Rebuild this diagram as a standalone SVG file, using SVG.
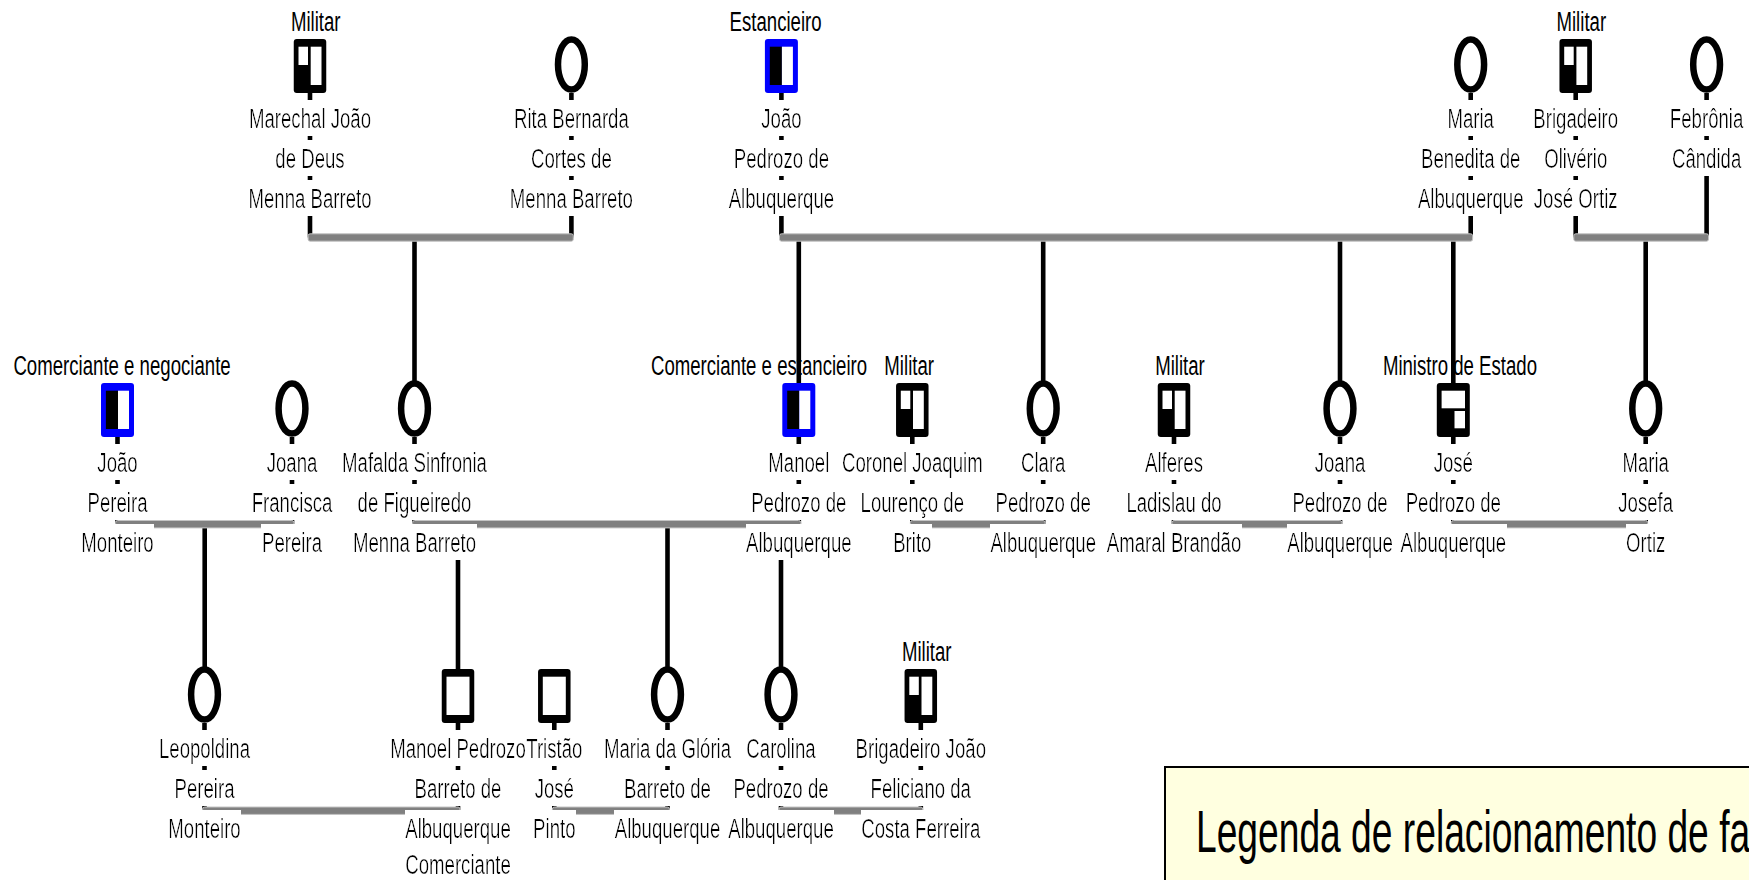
<svg xmlns="http://www.w3.org/2000/svg" width="1749" height="880" viewBox="0 0 1749 880">
<style>
  text { font-family: "Liberation Sans", Arial, sans-serif; fill: #000; }
  .nm text { font-size: 28px; text-anchor: middle; }
  .nm text.n { filter: url(#bg); }
  .ln line { stroke: #000; stroke-width: 4.6; }
  .mar rect { fill: #808080; stroke: #c4c4c4; stroke-width: 1; }
</style>
<defs>
  <!-- white backdrop the size of each name line -->
  <filter id="bg" filterUnits="objectBoundingBox" x="0" y="-0.05" width="1" height="1.1">
    <feFlood flood-color="#ffffff" result="f"/>
    <feMerge><feMergeNode in="f"/><feMergeNode in="SourceGraphic"/></feMerge>
  </filter>
  <!-- female -->
  <g id="fem"><ellipse cx="0" cy="25.5" rx="13.4" ry="25" fill="#fff" stroke="#000" stroke-width="6.5"/></g>
  <!-- male, plain -->
  <g id="male">
    <rect x="-16.25" y="0" width="32.5" height="54" rx="3" fill="#000"/>
    <rect x="-11.5" y="7.7" width="23" height="38.3" fill="#fff"/>
  </g>
  <!-- male, military -->
  <g id="mil">
    <rect x="-16.25" y="0" width="32.5" height="54" rx="3" fill="#000"/>
    <rect x="-11.5" y="7.7" width="9.5" height="18.3" fill="#fff"/>
    <rect x="0.7" y="7.7" width="10.8" height="38.3" fill="#fff"/>
  </g>
  <!-- male, merchant / rancher -->
  <g id="est">
    <rect x="-16.5" y="0" width="33" height="54" rx="3" fill="#0000ff"/>
    <rect x="-11.6" y="7.7" width="12.1" height="38.3" fill="#000"/>
    <rect x="0.5" y="7.7" width="11" height="38.3" fill="#fff"/>
  </g>
  <!-- male, minister -->
  <g id="min">
    <rect x="-16.5" y="0" width="33" height="54" rx="3" fill="#000"/>
    <rect x="-11.7" y="7.7" width="23.4" height="17.6" fill="#fff"/>
    <rect x="1.2" y="28" width="10.5" height="17.3" fill="#fff"/>
  </g>
</defs>

<rect width="1749" height="880" fill="#fff"/>

<!-- connectors -->
<g id="connectors">
  <g class="ln">
    <!-- stems, generation 1 -->
    <line x1="310" y1="93" x2="310" y2="237.5"/>
    <line x1="571.4" y1="93" x2="571.4" y2="237.5"/>
    <line x1="781.4" y1="93" x2="781.4" y2="237.5"/>
    <line x1="1470.7" y1="93" x2="1470.7" y2="237.5"/>
    <line x1="1575.7" y1="93" x2="1575.7" y2="237.5"/>
    <line x1="1706.6" y1="93" x2="1706.6" y2="237.5"/>
    <!-- stems, generation 2 -->
    <line x1="117.5" y1="437" x2="117.5" y2="524.2"/>
    <line x1="292" y1="437" x2="292" y2="524.2"/>
    <line x1="414.5" y1="437" x2="414.5" y2="524.2"/>
    <line x1="798.8" y1="437" x2="798.8" y2="524.2"/>
    <line x1="912.3" y1="437" x2="912.3" y2="524.2"/>
    <line x1="1043.2" y1="437" x2="1043.2" y2="524.2"/>
    <line x1="1174" y1="437" x2="1174" y2="524.2"/>
    <line x1="1340" y1="437" x2="1340" y2="524.2"/>
    <line x1="1453.3" y1="437" x2="1453.3" y2="524.2"/>
    <line x1="1645.7" y1="437" x2="1645.7" y2="524.2"/>
    <!-- stems, generation 3 -->
    <line x1="204.5" y1="723" x2="204.5" y2="810.7"/>
    <line x1="458" y1="723" x2="458" y2="810.7"/>
    <line x1="554.3" y1="723" x2="554.3" y2="810.7"/>
    <line x1="667.5" y1="723" x2="667.5" y2="810.7"/>
    <line x1="781" y1="723" x2="781" y2="810.7"/>
    <line x1="920.8" y1="723" x2="920.8" y2="810.7"/>
    <!-- descent lines to children -->
    <line x1="414.5" y1="237.5" x2="414.5" y2="384"/>
    <line x1="798.8" y1="237.5" x2="798.8" y2="384"/>
    <line x1="1043.2" y1="237.5" x2="1043.2" y2="384"/>
    <line x1="1340" y1="237.5" x2="1340" y2="384"/>
    <line x1="1453.3" y1="237.5" x2="1453.3" y2="384"/>
    <line x1="1645.7" y1="237.5" x2="1645.7" y2="384"/>
    <line x1="204.7" y1="524.2" x2="204.7" y2="670"/>
    <line x1="458" y1="524.2" x2="458" y2="670"/>
    <line x1="667.5" y1="524.2" x2="667.5" y2="670"/>
    <line x1="781" y1="524.2" x2="781" y2="670"/>
  </g>
  <!-- marriage bars -->
  <g class="mar">
    <rect x="308.1" y="233.8" width="265.2" height="7.4" rx="2"/>
    <rect x="779.5" y="233.8" width="693.1" height="7.4" rx="2"/>
    <rect x="1573.8" y="233.8" width="134.7" height="7.4" rx="2"/>
    <rect x="115.6" y="520.5" width="178.3" height="7.4" rx="2"/>
    <rect x="412.6" y="520.5" width="388.1" height="7.4" rx="2"/>
    <rect x="910.4" y="520.5" width="134.7" height="7.4" rx="2"/>
    <rect x="1172.1" y="520.5" width="169.8" height="7.4" rx="2"/>
    <rect x="1451.4" y="520.5" width="196.2" height="7.4" rx="2"/>
    <rect x="202.6" y="807" width="257.3" height="7.4" rx="2"/>
    <rect x="552.4" y="807" width="117" height="7.4" rx="2"/>
    <rect x="779.1" y="807" width="143.6" height="7.4" rx="2"/>
  </g>
</g>

<!-- generation 1 -->
<g id="marechal-joao-de-deus" transform="translate(310 0)">
  <use href="#mil" y="39"/>
  <g class="nm" transform="scale(0.665 1)">
    <text x="8.6" y="30.7">Militar</text>
    <text class="n" y="128">Marechal João</text>
    <text class="n" y="168">de Deus</text>
    <text class="n" y="208">Menna Barreto</text>
  </g>
</g>
<g id="rita-bernarda" transform="translate(571.4 0)">
  <use href="#fem" y="39"/>
  <g class="nm" transform="scale(0.665 1)">
    <text class="n" y="128">Rita Bernarda</text>
    <text class="n" y="168">Cortes de</text>
    <text class="n" y="208">Menna Barreto</text>
  </g>
</g>
<g id="joao-pedrozo" transform="translate(781.4 0)">
  <use href="#est" y="39"/>
  <g class="nm" transform="scale(0.665 1)">
    <text x="-8.7" y="30.7">Estancieiro</text>
    <text class="n" y="128">João</text>
    <text class="n" y="168">Pedrozo de</text>
    <text class="n" y="208">Albuquerque</text>
  </g>
</g>
<g id="maria-benedita" transform="translate(1470.7 0)">
  <use href="#fem" y="39"/>
  <g class="nm" transform="scale(0.665 1)">
    <text class="n" y="128">Maria</text>
    <text class="n" y="168">Benedita de</text>
    <text class="n" y="208">Albuquerque</text>
  </g>
</g>
<g id="olivério-ortiz" transform="translate(1575.7 0)">
  <use href="#mil" y="39"/>
  <g class="nm" transform="scale(0.665 1)">
    <text x="8.4" y="30.7">Militar</text>
    <text class="n" y="128">Brigadeiro</text>
    <text class="n" y="168">Olivério</text>
    <text class="n" y="208">José Ortiz</text>
  </g>
</g>
<g id="febronia-candida" transform="translate(1706.6 0)">
  <use href="#fem" y="39"/>
  <g class="nm" transform="scale(0.665 1)">
    <text class="n" y="128">Febrônia</text>
    <text class="n" y="168">Cândida</text>
  </g>
</g>

<!-- generation 2 -->
<g id="joao-pereira-monteiro" transform="translate(117.5 0)">
  <use href="#est" y="383"/>
  <g class="nm" transform="scale(0.665 1)">
    <text x="6.8" y="374.7">Comerciante e negociante</text>
    <text class="n" y="472">João</text>
    <text class="n" y="512">Pereira</text>
    <text class="n" y="552">Monteiro</text>
  </g>
</g>
<g id="joana-francisca" transform="translate(292 0)">
  <use href="#fem" y="383"/>
  <g class="nm" transform="scale(0.665 1)">
    <text class="n" y="472">Joana</text>
    <text class="n" y="512">Francisca</text>
    <text class="n" y="552">Pereira</text>
  </g>
</g>
<g id="mafalda-sinfronia" transform="translate(414.5 0)">
  <use href="#fem" y="383"/>
  <g class="nm" transform="scale(0.665 1)">
    <text class="n" y="472">Mafalda Sinfronia</text>
    <text class="n" y="512">de Figueiredo</text>
    <text class="n" y="552">Menna Barreto</text>
  </g>
</g>
<g id="manoel-pedrozo" transform="translate(798.8 0)">
  <use href="#est" y="383"/>
  <g class="nm" transform="scale(0.665 1)">
    <text x="-59.8" y="374.7">Comerciante e estancieiro</text>
    <text class="n" y="472">Manoel</text>
    <text class="n" y="512">Pedrozo de</text>
    <text class="n" y="552">Albuquerque</text>
  </g>
</g>
<g id="coronel-joaquim" transform="translate(912.3 0)">
  <use href="#mil" y="383"/>
  <g class="nm" transform="scale(0.665 1)">
    <text x="-4.7" y="374.7">Militar</text>
    <text class="n" y="472">Coronel Joaquim</text>
    <text class="n" y="512">Lourenço de</text>
    <text class="n" y="552">Brito</text>
  </g>
</g>
<g id="clara-pedrozo" transform="translate(1043.2 0)">
  <use href="#fem" y="383"/>
  <g class="nm" transform="scale(0.665 1)">
    <text class="n" y="472">Clara</text>
    <text class="n" y="512">Pedrozo de</text>
    <text class="n" y="552">Albuquerque</text>
  </g>
</g>
<g id="alferes-ladislau" transform="translate(1174 0)">
  <use href="#mil" y="383"/>
  <g class="nm" transform="scale(0.665 1)">
    <text x="9" y="374.7">Militar</text>
    <text class="n" y="472">Alferes</text>
    <text class="n" y="512">Ladislau do</text>
    <text class="n" y="552">Amaral Brandão</text>
  </g>
</g>
<g id="joana-pedrozo" transform="translate(1340 0)">
  <use href="#fem" y="383"/>
  <g class="nm" transform="scale(0.665 1)">
    <text class="n" y="472">Joana</text>
    <text class="n" y="512">Pedrozo de</text>
    <text class="n" y="552">Albuquerque</text>
  </g>
</g>
<g id="jose-pedrozo" transform="translate(1453.3 0)">
  <use href="#min" y="383"/>
  <g class="nm" transform="scale(0.665 1)">
    <text x="10" y="374.7">Ministro de Estado</text>
    <text class="n" y="472">José</text>
    <text class="n" y="512">Pedrozo de</text>
    <text class="n" y="552">Albuquerque</text>
  </g>
</g>
<g id="maria-josefa" transform="translate(1645.7 0)">
  <use href="#fem" y="383"/>
  <g class="nm" transform="scale(0.665 1)">
    <text class="n" y="472">Maria</text>
    <text class="n" y="512">Josefa</text>
    <text class="n" y="552">Ortiz</text>
  </g>
</g>

<!-- generation 3 -->
<g id="leopoldina" transform="translate(204.5 0)">
  <use href="#fem" y="669"/>
  <g class="nm" transform="scale(0.665 1)">
    <text class="n" y="758">Leopoldina</text>
    <text class="n" y="798">Pereira</text>
    <text class="n" y="838">Monteiro</text>
  </g>
</g>
<g id="manoel-pedrozo-barreto" transform="translate(458 0)">
  <use href="#male" y="669"/>
  <g class="nm" transform="scale(0.665 1)">
    <text class="n" y="758">Manoel Pedrozo</text>
    <text class="n" y="798">Barreto de</text>
    <text class="n" y="838">Albuquerque</text>
    <text class="n" y="874">Comerciante</text>
  </g>
</g>
<g id="tristao-pinto" transform="translate(554.3 0)">
  <use href="#male" y="669"/>
  <g class="nm" transform="scale(0.665 1)">
    <text class="n" y="758">Tristão</text>
    <text class="n" y="798">José</text>
    <text class="n" y="838">Pinto</text>
  </g>
</g>
<g id="maria-da-gloria" transform="translate(667.5 0)">
  <use href="#fem" y="669"/>
  <g class="nm" transform="scale(0.665 1)">
    <text class="n" y="758">Maria da Glória</text>
    <text class="n" y="798">Barreto de</text>
    <text class="n" y="838">Albuquerque</text>
  </g>
</g>
<g id="carolina-pedrozo" transform="translate(781 0)">
  <use href="#fem" y="669"/>
  <g class="nm" transform="scale(0.665 1)">
    <text class="n" y="758">Carolina</text>
    <text class="n" y="798">Pedrozo de</text>
    <text class="n" y="838">Albuquerque</text>
  </g>
</g>
<g id="brigadeiro-joao-feliciano" transform="translate(920.8 0)">
  <use href="#mil" y="669"/>
  <g class="nm" transform="scale(0.665 1)">
    <text x="8.9" y="660.7">Militar</text>
    <text class="n" y="758">Brigadeiro João</text>
    <text class="n" y="798">Feliciano da</text>
    <text class="n" y="838">Costa Ferreira</text>
  </g>
</g>

<!-- legend box -->
<g id="legend">
  <rect x="1165" y="767" width="620" height="140" fill="#ffffe0" stroke="#000" stroke-width="2"/>
  <text transform="translate(1196 852) scale(0.62 1)" font-size="60">Legenda de relacionamento de fa</text>
</g>
</svg>
